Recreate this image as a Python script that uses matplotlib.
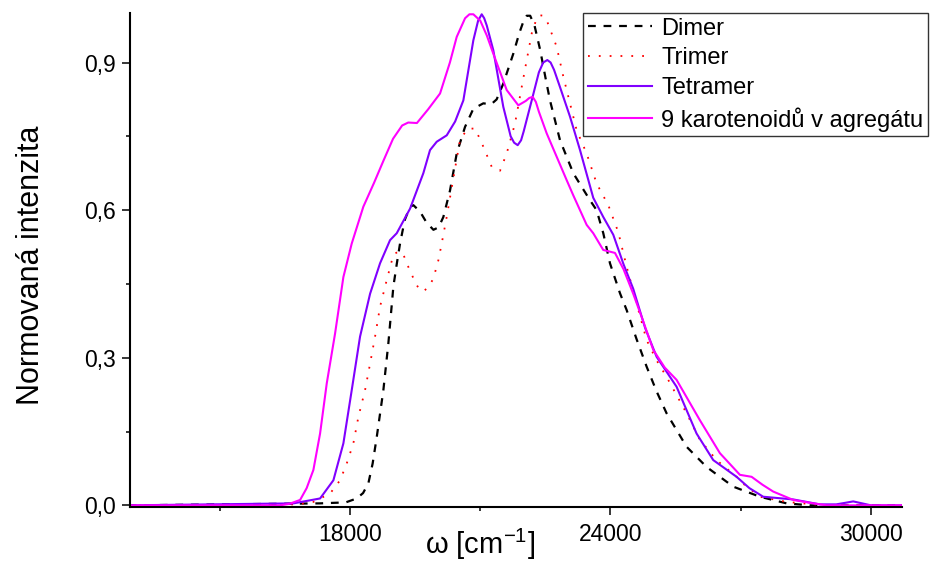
"""
emission spectra of carotenoid aggregates,
normalised intensity vs wavenumber
"""
import numpy as np
import matplotlib
matplotlib.use("Agg")
import matplotlib.pyplot as plt
from matplotlib.ticker import FixedLocator

plt.rcParams['font.family'] = ['Liberation Sans', 'DejaVu Sans']
plt.rcParams['mathtext.default'] = 'regular'

# values
dimer_x = [12900, 17300, 17900, 18154, 18300, 18422, 18520, 18615, 18767, 18882,
           18998, 19075, 19151, 19260, 19382, 19460, 19612, 19760, 19920, 20040,
           20149, 20303, 20457, 20648, 20840, 21070, 21250, 21377, 21530, 21761,
           21900, 22000, 22070, 22150, 22250, 22381, 22500, 22606, 22837, 23143,
           23528, 23680, 23834, 23988, 24219, 24372, 24600, 24832, 25060, 25293,
           25754, 26214, 26828, 27442, 28057, 28600, 30800]
dimer_y = [0.0, 0.004, 0.006, 0.014, 0.025, 0.045, 0.085, 0.139, 0.234, 0.329,
           0.445, 0.49, 0.532, 0.58, 0.607, 0.61, 0.597, 0.575, 0.56, 0.565,
           0.586, 0.64, 0.715, 0.769, 0.806, 0.817, 0.815, 0.825, 0.857, 0.918,
           0.96, 0.985, 0.995, 0.995, 0.975, 0.925, 0.87, 0.823, 0.742, 0.675,
           0.62, 0.6, 0.553, 0.492, 0.431, 0.397, 0.338, 0.282, 0.232, 0.187,
           0.119, 0.078, 0.038, 0.0175, 0.004, 0.0, 0.0]

trimer_x = [12900, 16800, 17155, 17539, 17770, 17923, 18076, 18192, 18345, 18461,
            18576, 18691, 18845, 19000, 19120, 19228, 19305, 19497, 19612, 19720,
            19819, 19919, 20034, 20111, 20226, 20380, 20533, 20700, 20880, 21070,
            21263, 21455, 21608, 21800, 21954, 22070, 22185, 22300, 22376, 22450,
            22530, 22760, 22914, 23067, 23221, 23451, 23681, 23950, 24180, 24372,
            24602, 24832, 25060, 25293, 25523, 25754, 26060, 26444, 26905, 27097,
            27442, 28057, 28670, 29200, 30800]
trimer_y = [0.0, 0.002, 0.007, 0.024, 0.051, 0.085, 0.126, 0.18, 0.234, 0.288,
            0.343, 0.404, 0.458, 0.51, 0.516, 0.51, 0.492, 0.454, 0.436, 0.437,
            0.445, 0.461, 0.498, 0.532, 0.586, 0.665, 0.742, 0.765, 0.766, 0.729,
            0.688, 0.68, 0.715, 0.776, 0.85, 0.905, 0.959, 0.99, 0.996, 0.995,
            0.986, 0.932, 0.871, 0.817, 0.762, 0.715, 0.654, 0.61, 0.555, 0.485,
            0.41, 0.336, 0.295, 0.261, 0.224, 0.187, 0.133, 0.092, 0.058, 0.041,
            0.0175, 0.007, 0.002, 0.0, 0.0]

tetramer_x = [12900, 16695, 17309, 17616, 17846, 18038, 18230, 18461, 18691, 18921,
              19075, 19382, 19688, 19842, 19997, 20227, 20420, 20610, 20840, 20950,
              21033, 21090, 21150, 21300, 21530, 21700, 21780, 21862, 21940, 22000,
              22185, 22350, 22450, 22545, 22620, 22700, 22837, 23067, 23298, 23603,
              23834, 24064, 24300, 24524, 24800, 25062, 25523, 25983, 26367, 26905,
              27200, 27519, 28210, 28824, 29200, 29400, 29592, 29800, 30000, 30800]
tetramer_y = [0.0, 0.004, 0.014, 0.051, 0.126, 0.234, 0.343, 0.43, 0.492, 0.539,
              0.553, 0.603, 0.675, 0.722, 0.739, 0.752, 0.78, 0.823, 0.945, 0.985,
              0.998, 0.99, 0.975, 0.925, 0.81, 0.75, 0.737, 0.732, 0.742, 0.76,
              0.823, 0.88, 0.9, 0.905, 0.9, 0.885, 0.85, 0.79, 0.722, 0.625,
              0.586, 0.55, 0.49, 0.44, 0.36, 0.302, 0.241, 0.146, 0.092, 0.058,
              0.035, 0.0175, 0.012, 0.002, 0.002, 0.005, 0.008, 0.004, 0.0, 0.0]

agg_x = [12900, 16388, 16600, 16849, 17000, 17155, 17309, 17463, 17654, 17846,
         18038, 18306, 18550, 18767, 18990, 19200, 19340, 19540, 19800, 20073,
         20300, 20457, 20650, 20750, 20840, 21000, 21150, 21300, 21609, 21876,
         22050, 22130, 22208, 22280, 22350, 22530, 22990, 23143, 23451, 23603,
         23833, 24103, 24300, 24524, 24750, 24985, 25250, 25523, 26060, 26521,
         26982, 27251, 27500, 27749, 28210, 28600, 28978, 30800]
agg_y = [0.0, 0.0, 0.003, 0.011, 0.035, 0.072, 0.146, 0.248, 0.349, 0.464,
         0.532, 0.607, 0.655, 0.7, 0.745, 0.772, 0.778, 0.777, 0.805, 0.837,
         0.9, 0.952, 0.99, 0.998, 0.998, 0.985, 0.955, 0.918, 0.844, 0.813,
         0.822, 0.828, 0.83, 0.82, 0.8, 0.756, 0.661, 0.63, 0.57, 0.553,
         0.519, 0.513, 0.48, 0.43, 0.375, 0.316, 0.28, 0.255, 0.173, 0.106,
         0.062, 0.058, 0.042, 0.028, 0.011, 0.005, 0.0, 0.0]

labels = ["Dimer", "Trimer", "Tetramer", "9 karotenoidů v agregátu"]

x_major = [18000, 24000, 30000]
x_minor = [15000, 21000, 27000]
y_major = [0.0, 0.3, 0.6, 0.9]
y_minor = [0.15, 0.45, 0.75]
y_ticklabels = ["0,0", "0,3", "0,6", "0,9"]

fig = plt.figure(figsize=(9.3, 5.61), dpi=100)
ax = fig.add_axes([0.1398, 0.0957, 0.8298, 0.8806])

ax.plot(dimer_x, dimer_y, color="black", lw=1.6, ls=(0, (3.5, 3.5)), label=labels[0])
ax.plot(trimer_x, trimer_y, color="red", lw=1.3, ls=(0, (1, 5)), label=labels[1])
ax.plot(tetramer_x, tetramer_y, color="#8000FF", lw=1.5, label=labels[2])
ax.plot(agg_x, agg_y, color="#FF00FF", lw=1.5, label=labels[3])

ax.set_xlim(12930, 30710)
ax.set_ylim(-0.004, 1.0)

ax.spines['top'].set_visible(False)
ax.spines['right'].set_visible(False)
ax.spines['left'].set_linewidth(1.5)
ax.spines['bottom'].set_linewidth(1.5)

ax.xaxis.set_major_locator(FixedLocator(x_major))
ax.xaxis.set_minor_locator(FixedLocator(x_minor))
ax.yaxis.set_major_locator(FixedLocator(y_major))
ax.yaxis.set_minor_locator(FixedLocator(y_minor))
ax.set_xticklabels([str(v) for v in x_major])
ax.set_yticklabels(y_ticklabels)

ax.tick_params(which='major', length=6, width=1.1, labelsize=16.5, direction='out')
ax.tick_params(which='minor', length=3, width=1.1, direction='out')
ax.tick_params(axis='x', pad=5)
ax.tick_params(axis='y', pad=4)

ax.set_ylabel("Normovaná intenzita", fontsize=22)
ax.yaxis.set_label_coords(-0.109, 0.49)
ax.set_xlabel("ω [cm$^{-1}$]", fontsize=21)
ax.xaxis.set_label_coords(0.453, -0.04)

leg = ax.legend(loc='upper right', bbox_to_anchor=(0.998, 0.977),
                bbox_transform=fig.transFigure, fontsize=17, frameon=True,
                fancybox=False, shadow=False, borderpad=0.2, borderaxespad=0,
                handlelength=2.7, handletextpad=0.4, labelspacing=0.33)
leg.get_frame().set_edgecolor("#333333")
leg.get_frame().set_linewidth(1.0)
leg.get_frame().set_alpha(1)

fig.savefig("out.png", dpi=100)
